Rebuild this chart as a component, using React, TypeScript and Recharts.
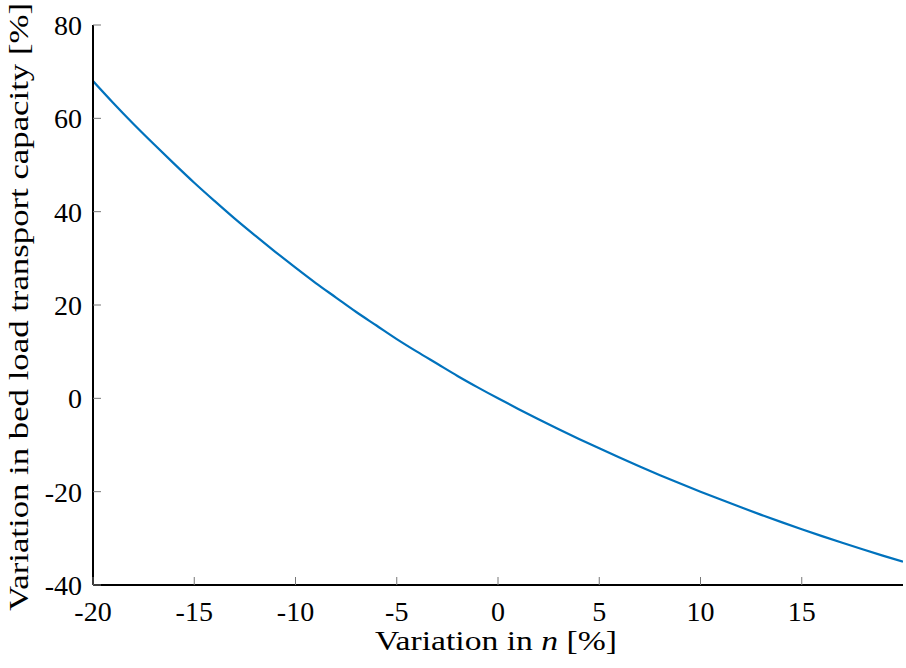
import React from 'react';
import { LineChart, Line, XAxis, YAxis } from 'recharts';

const nVariation = [
  -20, -19, -18, -17, -16, -15, -14, -13, -12, -11, -10, -9, -8, -7, -6, -5, -4, -3, -2, -1,
  0, 1, 2, 3, 4, 5, 6, 7, 8, 9, 10, 11, 12, 13, 14, 15, 16, 17, 18, 19, 20,
];
const capacityVariation = [
  68.0, 63.3, 58.8, 54.5, 50.3, 46.2, 42.3, 38.5, 34.9, 31.4, 28.0, 24.7, 21.6, 18.5, 15.6, 12.7, 10.0, 7.4, 4.8, 2.35,
  0, -2.27, -4.48, -6.62, -8.7, -10.72, -12.69, -14.6, -16.46, -18.26, -20.0, -21.7, -23.36, -24.97, -26.53, -28.05, -29.53, -30.96, -32.35, -33.7, -35.0,
];
const xTicks = [-20, -15, -10, -5, 0, 5, 10, 15];
const yTicks = [-40, -20, 0, 20, 40, 60, 80];

const data = nVariation.map((x, i) => ({ x, y: capacityVariation[i] }));

const FONT = '"Liberation Serif", "DejaVu Serif", serif';
const FS = 28;

const XTick = (props: any) => {
  const { x, y, payload } = props;
  const axisY = y - 16;
  return (
    <g>
      <line x1={x} x2={x} y1={axisY} y2={axisY - 8} stroke="#777" strokeWidth={1} />
      <text x={x} y={y} dy="0.71em" textAnchor="middle" fontFamily={FONT} fontSize={FS} fill="#000">
        {payload.value}
      </text>
    </g>
  );
};

const YTick = (props: any) => {
  const { x, y, payload } = props;
  const axisX = x + 11;
  return (
    <g>
      <line x1={axisX} x2={axisX + 8} y1={y} y2={y} stroke="#777" strokeWidth={1} />
      <text x={x} y={y} dy="0.355em" textAnchor="end" fontFamily={FONT} fontSize={FS} fill="#000">
        {payload.value}
      </text>
    </g>
  );
};

const XLabel = (props: any) => {
  const { viewBox } = props;
  const cx = 496;
  return (
    <text
      x={cx}
      y={viewBox.y + 65}
      textAnchor="middle"
      textLength={242}
      lengthAdjust="spacingAndGlyphs"
      fontFamily={FONT}
      fontSize={FS}
      fill="#000"
    >
      Variation in <tspan fontStyle="italic">n</tspan> [%]
    </text>
  );
};

const YLabel = () => {
  const cy = 307;
  const bx = 28;
  return (
    <text
      x={bx}
      y={cy}
      textAnchor="middle"
      textLength={608}
      lengthAdjust="spacingAndGlyphs"
      transform={`rotate(-90, ${bx}, ${cy})`}
      fontFamily={FONT}
      fontSize={FS}
      fill="#000"
    >
      Variation in bed load transport capacity [%]
    </text>
  );
};

export default function App() {
  return (
    <div style={{ position: 'absolute', left: 0, top: 0, width: 906, height: 668, background: '#fff' }}>
      <LineChart width={906} height={668} data={data} margin={{ top: 25, right: 3, bottom: 0, left: 0 }}>
        <XAxis
          dataKey="x"
          type="number"
          domain={[-20, 20]}
          ticks={xTicks}
          allowDataOverflow
          height={83}
          tickSize={0}
          tickMargin={16}
          tickLine={false}
          axisLine={{ stroke: '#000', strokeWidth: 1.8 }}
          tick={<XTick />}
          interval={0}
          label={<XLabel />}
        />
        <YAxis
          dataKey="y"
          type="number"
          domain={[-40, 80]}
          ticks={yTicks}
          width={93}
          tickSize={0}
          tickMargin={11}
          tickLine={false}
          axisLine={{ stroke: '#000', strokeWidth: 2 }}
          tick={<YTick />}
          interval={0}
          label={<YLabel />}
        />
        <Line
          dataKey="y"
          type="monotone"
          stroke="#0072BD"
          strokeWidth={2.2}
          dot={false}
          isAnimationActive={false}
        />
      </LineChart>
    </div>
  );
}
